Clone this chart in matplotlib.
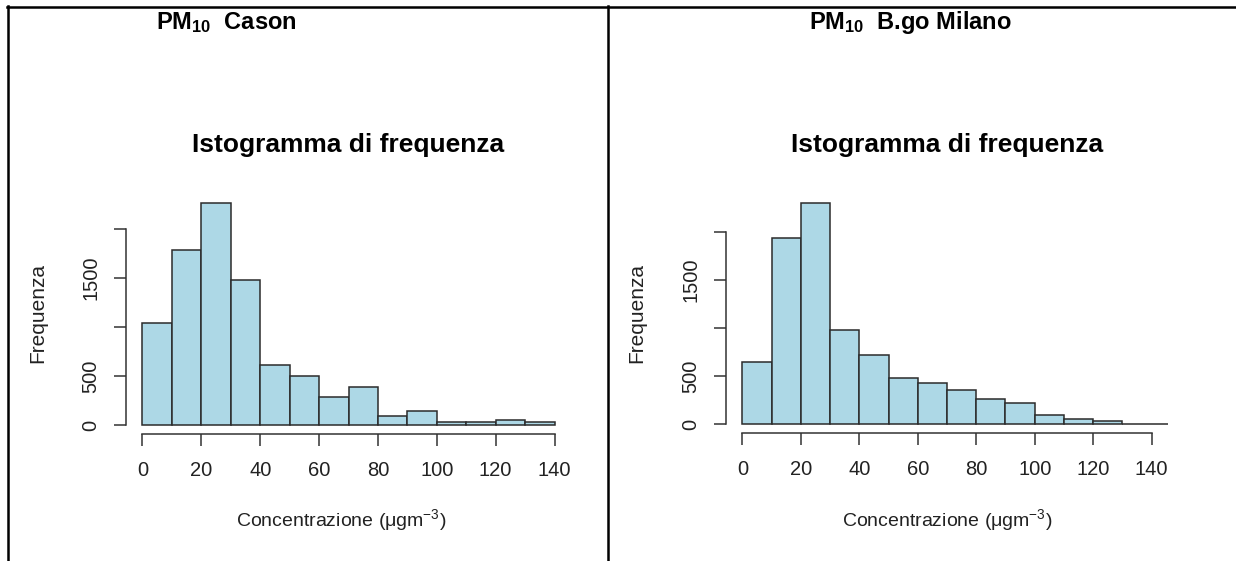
import matplotlib
matplotlib.use("Agg")
import numpy as np
import matplotlib.pyplot as plt
from matplotlib import font_manager
from matplotlib.lines import Line2D

# PM10 hourly concentration histograms, counts per 10 ugm-3 bin
stations = ["Cason", "B.go Milano"]
edges_cason = [0, 10, 20, 30, 40, 50, 60, 70, 80, 90, 100, 110, 120, 130, 140]
counts_cason = [1040, 1785, 2262, 1480, 609, 500, 286, 391, 92, 146, 27, 27, 54, 27]
edges_milano = [0, 10, 20, 30, 40, 50, 60, 70, 80, 90, 100, 110, 120, 130, 140, 150]
counts_milano = [647, 1941, 2302, 976, 722, 483, 431, 358, 260, 222, 97, 56, 31, 4, 2]

xticks = [0, 20, 40, 60, 80, 100, 120, 140]
yticks = [0, 500, 1000, 1500, 2000]
ytick_labels = ["0", "500", "", "1500", ""]

W, H = 1236, 561
plt.rcParams["font.family"] = ["Liberation Sans", "DejaVu Sans"]
plt.rcParams["mathtext.default"] = "regular"

# R on Windows uses a narrow Arial for these labels; use the narrow face if present
names = {f.name for f in font_manager.fontManager.ttflist}
if "Liberation Sans Narrow" in names:
    narrow = ["Liberation Sans Narrow", "DejaVu Sans"]
    tick_size, xlab_size = 16.5, 16.5
else:
    narrow = ["Liberation Sans", "DejaVu Sans"]
    tick_size, xlab_size = 14.5, 14

fig = plt.figure(figsize=(W / 100, H / 100), dpi=100)


def fx(px):
    return px / W


def fy(py):
    return 1 - py / H


def pix_axes(x0, y0, x1, y1):
    # y0 is the top edge, y1 the bottom edge, in pixels
    return fig.add_axes([fx(x0), fy(y1), (x1 - x0) / W, (y1 - y0) / H])


def draw_hist(ax, edges, counts):
    ax.hist(edges[:-1], bins=edges, weights=counts, histtype="bar",
            color="lightblue", edgecolor="#2b2b2b", linewidth=1.1)
    top = max(counts)
    ax.set_xlim(-5.6, 145.6)
    ax.set_ylim(-0.04 * top, 1.04 * top)
    for side in ["top", "right"]:
        ax.spines[side].set_visible(False)
    for side in ["left", "bottom"]:
        ax.spines[side].set_linewidth(1.1)
        ax.spines[side].set_color("#333333")
    ax.spines["left"].set_bounds(yticks[0], yticks[-1])
    ax.spines["bottom"].set_bounds(xticks[0], xticks[-1])
    ax.set_xticks(xticks)
    ax.set_yticks(yticks, ytick_labels, rotation=90, va="center")
    ax.tick_params(direction="out", length=8.5, width=1.1, color="#333333",
                   labelcolor="#222222")
    ax.tick_params(axis="x", pad=11, labelsize=tick_size, labelfontfamily=narrow)
    ax.tick_params(axis="y", pad=10, labelsize=14.5)
    ax.set_facecolor("none")
    ax.set_title("Istogramma di frequenza", fontsize=19, fontweight="bold", pad=30)


ax1 = pix_axes(126, 194, 571, 434)
draw_hist(ax1, edges_cason, counts_cason)
ax2 = pix_axes(726, 194, 1168, 433)
draw_hist(ax2, edges_milano, counts_milano)

# axis labels
label_pos = [(341, 38, 520), (947, 637, 520)]
for (cx, ylab_x, xlab_y) in label_pos:
    fig.text(fx(cx), fy(xlab_y), "Concentrazione (\u03bcgm$^{-3}$)", fontsize=xlab_size,
             family=narrow, ha="center", va="center", color="#222222")
    fig.text(fx(ylab_x), fy(313), "Frequenza", fontsize=15, rotation=90,
             ha="center", va="center", color="#222222")

# cell headers
for name, cx in zip(stations, [226, 910]):
    fig.text(fx(cx), fy(23), "PM$_{10}$  " + name, fontsize=17, fontweight="bold",
             ha="center", va="center")

# table borders
border = dict(color="black", linewidth=1.8, transform=fig.transFigure)
fig.add_artist(Line2D([fx(7), fx(W)], [fy(6.5), fy(6.5)], **border))
fig.add_artist(Line2D([fx(7.5), fx(7.5)], [fy(6), fy(H)], **border))
fig.add_artist(Line2D([fx(608), fx(608)], [fy(6), fy(H)], **border))

fig.savefig("out.png", dpi=100)
